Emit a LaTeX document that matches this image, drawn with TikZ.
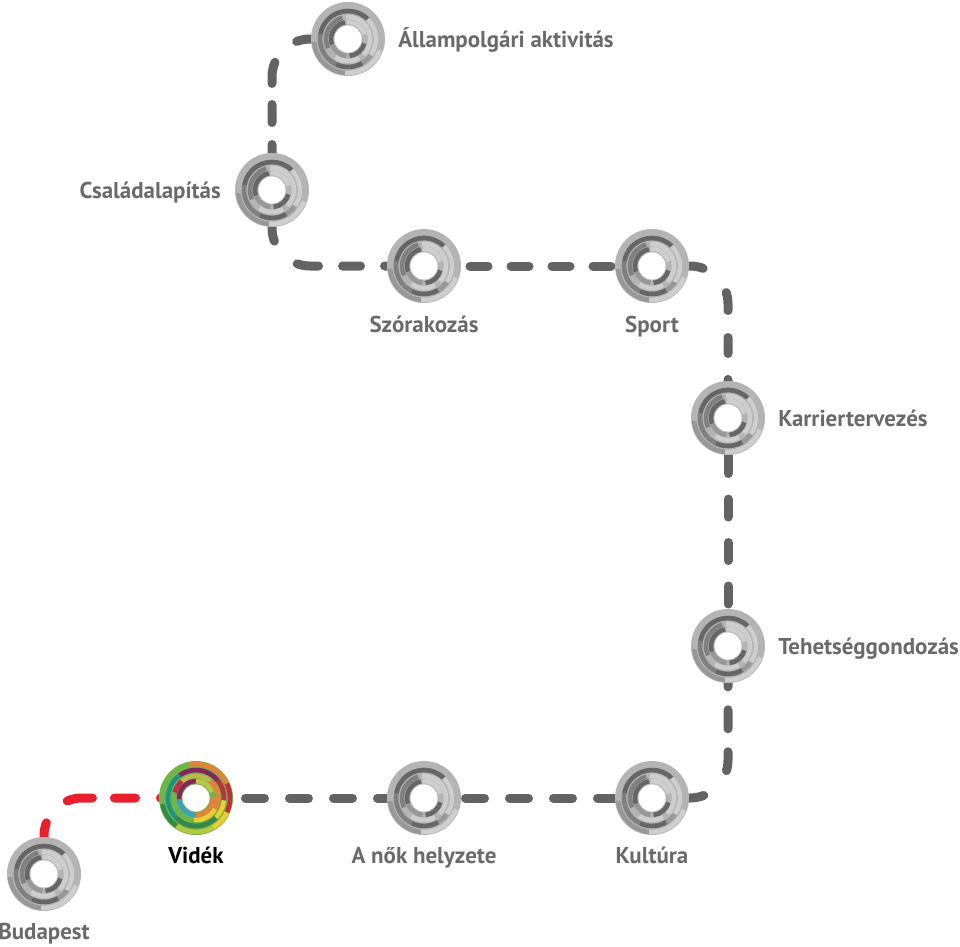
\documentclass[tikz,border=0pt]{standalone}
\usepackage{fontspec}
\usepackage{xcolor}
\setmainfont{PT Sans}
\usepackage{tikz}
\usetikzlibrary{backgrounds}

% ring bands: radius/start/end/colour
\newcommand{\graybands}{34/0/360/ringA,34/185/265/ringB,34/265/340/ringE,
	28/0/360/ringB,28/45/170/ringF,28/170/245/ringD,28/245/300/ringF,28/-35/45/ringE,
	22/0/360/ringA,22/30/95/ringE,22/105/205/ringD,22/-45/30/ringE,22/235/300/ringE,
	17/0/360/ringA,17/100/200/ringF,17/200/265/ringB,17/-85/-15/ringF,17/15/95/ringE}
\newcommand{\colorbands}{34/0/360/cGreen,34/25/100/cOrange,34/-25/25/cRed,34/-60/-25/cYellow,34/-125/-60/cLime,34/190/235/cForest,
	28/0/360/cTeal,28/40/125/cPlum,28/-5/40/cRed,28/-45/-5/cYellow,28/225/315/cForest,
	22/0/360/cGreen,22/50/130/cOlive,22/130/165/cRed,22/-30/50/cOrange,22/-95/-30/cYellow,
	17/0/360/cGreen,17/90/185/cPlum,17/185/270/cBlue,17/270/360/cOrange,17/20/90/cLime}

\definecolor{ringA}{HTML}{B4B4B4}
\definecolor{ringB}{HTML}{989898}
\definecolor{ringD}{HTML}{808080}
\definecolor{ringE}{HTML}{CECECE}
\definecolor{ringF}{HTML}{666666}
\definecolor{cGreen}{HTML}{6FB54A}
\definecolor{cOrange}{HTML}{E8803A}
\definecolor{cRed}{HTML}{C42C40}
\definecolor{cYellow}{HTML}{F0CC30}
\definecolor{cLime}{HTML}{B5C944}
\definecolor{cTeal}{HTML}{1F9480}
\definecolor{cPlum}{HTML}{86245E}
\definecolor{cForest}{HTML}{338A48}
\definecolor{cOlive}{HTML}{BDB94C}
\definecolor{cBlue}{HTML}{35A3C0}
\definecolor{lineGray}{HTML}{636363}
\definecolor{lineRed}{HTML}{E8202E}
\definecolor{labelGray}{HTML}{6A6A6A}

\tikzset{
	ringbase/.style={circle,minimum size=55.5pt,inner sep=0pt,outer sep=0pt},
	grayring/.style={ringbase,fill=ringA,path picture={
		\begin{scope}[shift={(path picture bounding box.center)}]
			\foreach \r/\a/\b/\c in \graybands
				\draw[\c,line width=3.4pt] (\a:\r*0.75pt) arc[start angle=\a,end angle=\b,radius=\r*0.75pt];
			\fill[white] (0,0) circle (10.2pt);
		\end{scope}}},
	colorring/.style={ringbase,fill=cGreen,path picture={
		\begin{scope}[shift={(path picture bounding box.center)}]
			\foreach \r/\a/\b/\c in \colorbands
				\draw[\c,line width=3.4pt] (\a:\r*0.75pt) arc[start angle=\a,end angle=\b,radius=\r*0.75pt];
			\fill[white] (0,0) circle (10.2pt);
		\end{scope}}},
	route/.style={line width=6.75pt,line cap=round,rounded corners=28.5pt},
	grayroute/.style={route,lineGray},
	redroute/.style={route,lineRed},
	lbl/.style={inner sep=0pt,text=labelGray,text height=12pt,text depth=0pt,font=\fontsize{17.2}{20}\selectfont\bfseries}
}

\begin{document}
\begin{tikzpicture}[x=0.75pt,y=-0.75pt]
	\useasboundingbox (0,0) rectangle (960,946);

	\coordinate (c1) at (44,798);
	\coordinate (c2) at (728,798);
	\coordinate (c3) at (728,266);
	\coordinate (c4) at (272,266);
	\coordinate (c5) at (272,39);

	% stops
	\node[grayring] (budapest) at (44,874) {};
	\node[colorring] (videk) at (196,798) {};
	\node[grayring] (nok) at (424,798) {};
	\node[grayring] (kultura) at (652,798) {};
	\node[grayring] (tehetseg) at (728,646) {};
	\node[grayring] (karrier) at (728,418) {};
	\node[grayring] (sport) at (652,266) {};
	\node[grayring] (szorakozas) at (424,266) {};
	\node[grayring] (csalad) at (272,190) {};
	\node[grayring] (allam) at (348,39) {};

	% dashes, leg by leg (lengths in pt)
	\begin{pgfonlayer}{background}
	\draw[redroute,dash pattern=on 26.6pt off 18.8pt on 15.8pt off 16.5pt on 19.1pt off 23.3pt on 45pt off 45pt]
		(videk.center) -- (c1) -- (budapest.center);
	\draw[grayroute,dash pattern=on 14.25pt off 18.75pt,dash phase=28.9pt]
		(videk.center) -- (nok.center) -- (kultura.center);
	\draw[grayroute,dash pattern=on 39pt off 26.2pt on 14.25pt off 17.2pt on 14.25pt off 17.2pt on 14.25pt off 60pt]
		(kultura.center) -- (c2) -- (tehetseg.center);
	\draw[grayroute,dash pattern=on 13.5pt off 19.1pt,dash phase=1.1pt]
		(tehetseg.center) -- (karrier.center);
	\draw[grayroute,dash pattern=on 28.9pt off 19.5pt on 12pt off 20.2pt on 13.6pt off 26pt on 45pt off 45pt]
		(karrier.center) -- (c3) -- (sport.center);
	\draw[grayroute,dash pattern=on 13.5pt off 17.25pt]
		(sport.center) -- (szorakozas.center);
	\draw[grayroute,dash pattern=on 29.6pt off 18pt on 13.5pt off 18pt on 16.1pt off 25pt on 45pt off 45pt]
		(szorakozas.center) -- (c4) -- (csalad.center);
	\draw[grayroute,dash pattern=on 34.1pt off 16.5pt on 13.5pt off 15.8pt on 16.1pt off 23.3pt on 45pt off 45pt]
		(csalad.center) -- (c5) -- (allam.center);
	\end{pgfonlayer}

	\node[lbl,anchor=west] (lallam) at (398,39) {Állampolgári aktivitás};
	\node[lbl,anchor=east] (lcsalad) at (221,190) {Családalapítás};
	\node[lbl] (lszorakozas) at (424,324) {Szórakozás};
	\node[lbl] (lsport) at (652,324) {Sport};
	\node[lbl,anchor=west] (lkarrier) at (778,418) {Karriertervezés};
	\node[lbl,anchor=west] (ltehetseg) at (778,646) {Tehetséggondozás};
	\node[lbl] (lkultura) at (652,855) {Kultúra};
	\node[lbl] (lnok) at (424,855) {A nők helyzete};
	\node[lbl,text=black] (lvidek) at (196,855) {Vidék};
	\node[lbl] (lbudapest) at (44,931) {Budapest};
\end{tikzpicture}
\end{document}
